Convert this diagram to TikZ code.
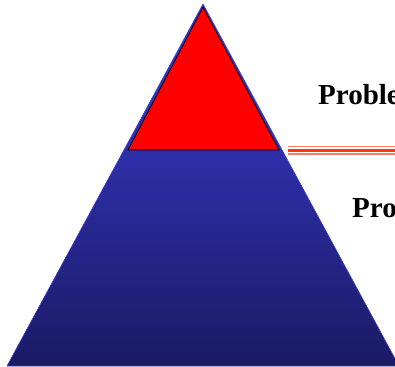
\documentclass[tikz,border=0pt]{standalone}
\usepackage{fontspec}
\setmainfont{Liberation Serif}
\usepackage{xcolor}
\usetikzlibrary{positioning}
\definecolor{PBlueTop}{RGB}{60,60,218}
\definecolor{PBlueBot}{RGB}{26,26,100}
\definecolor{PEdge}{RGB}{60,60,210}
\definecolor{POrange}{RGB}{255,125,95}
\definecolor{PStripe}{RGB}{255,55,15}
\pgfdeclareverticalshading{pyramidfade}{100bp}{color(0bp)=(PBlueBot); color(25bp)=(PBlueBot); color(75bp)=(PBlueTop); color(100bp)=(PBlueTop)}

\begin{document}
\begin{tikzpicture}[x=1pt,y=-1pt,
    tierlabel/.style={anchor=base west,inner sep=0pt,
      font=\fontsize{29}{34}\selectfont\bfseries}]
      \useasboundingbox (0,0) rectangle (395,366);
      \clip (0,0) rectangle (395,366);
      % pyramid
      \coordinate (apex) at (203,4);
      \coordinate (baseL) at (7,366);
      \coordinate (baseR) at (399,366);
      \draw[draw=PEdge,line width=0.6pt,shading=pyramidfade]
        (apex) -- (baseL) -- (baseR) -- cycle;
      % top tier
      \coordinate (capTop) at (203,7);
      \coordinate (capL) at (128,150);
      \coordinate (capR) at (279,150);
      \draw[black,line width=0.8pt,fill=red]
        (capTop) -- (capL) -- (capR) -- cycle;
      % divider
      \coordinate (bandL) at (288,150.5);
      \coordinate (bandR) at (395,150.5);
      \draw[POrange,line width=1.7pt] ([yshift=-3.8pt]bandL) -- ([yshift=-3.8pt]bandR);
      \draw[PStripe,line width=2.4pt] (bandL) -- (bandR);
      \draw[POrange,line width=1.7pt] ([yshift=4pt]bandL) -- ([yshift=4pt]bandR);
      % labels
      \node[tierlabel] (problem) at (318,105) {Proble};
      \node[tierlabel] (process) at (352,217) {Pro};
\end{tikzpicture}
\end{document}
